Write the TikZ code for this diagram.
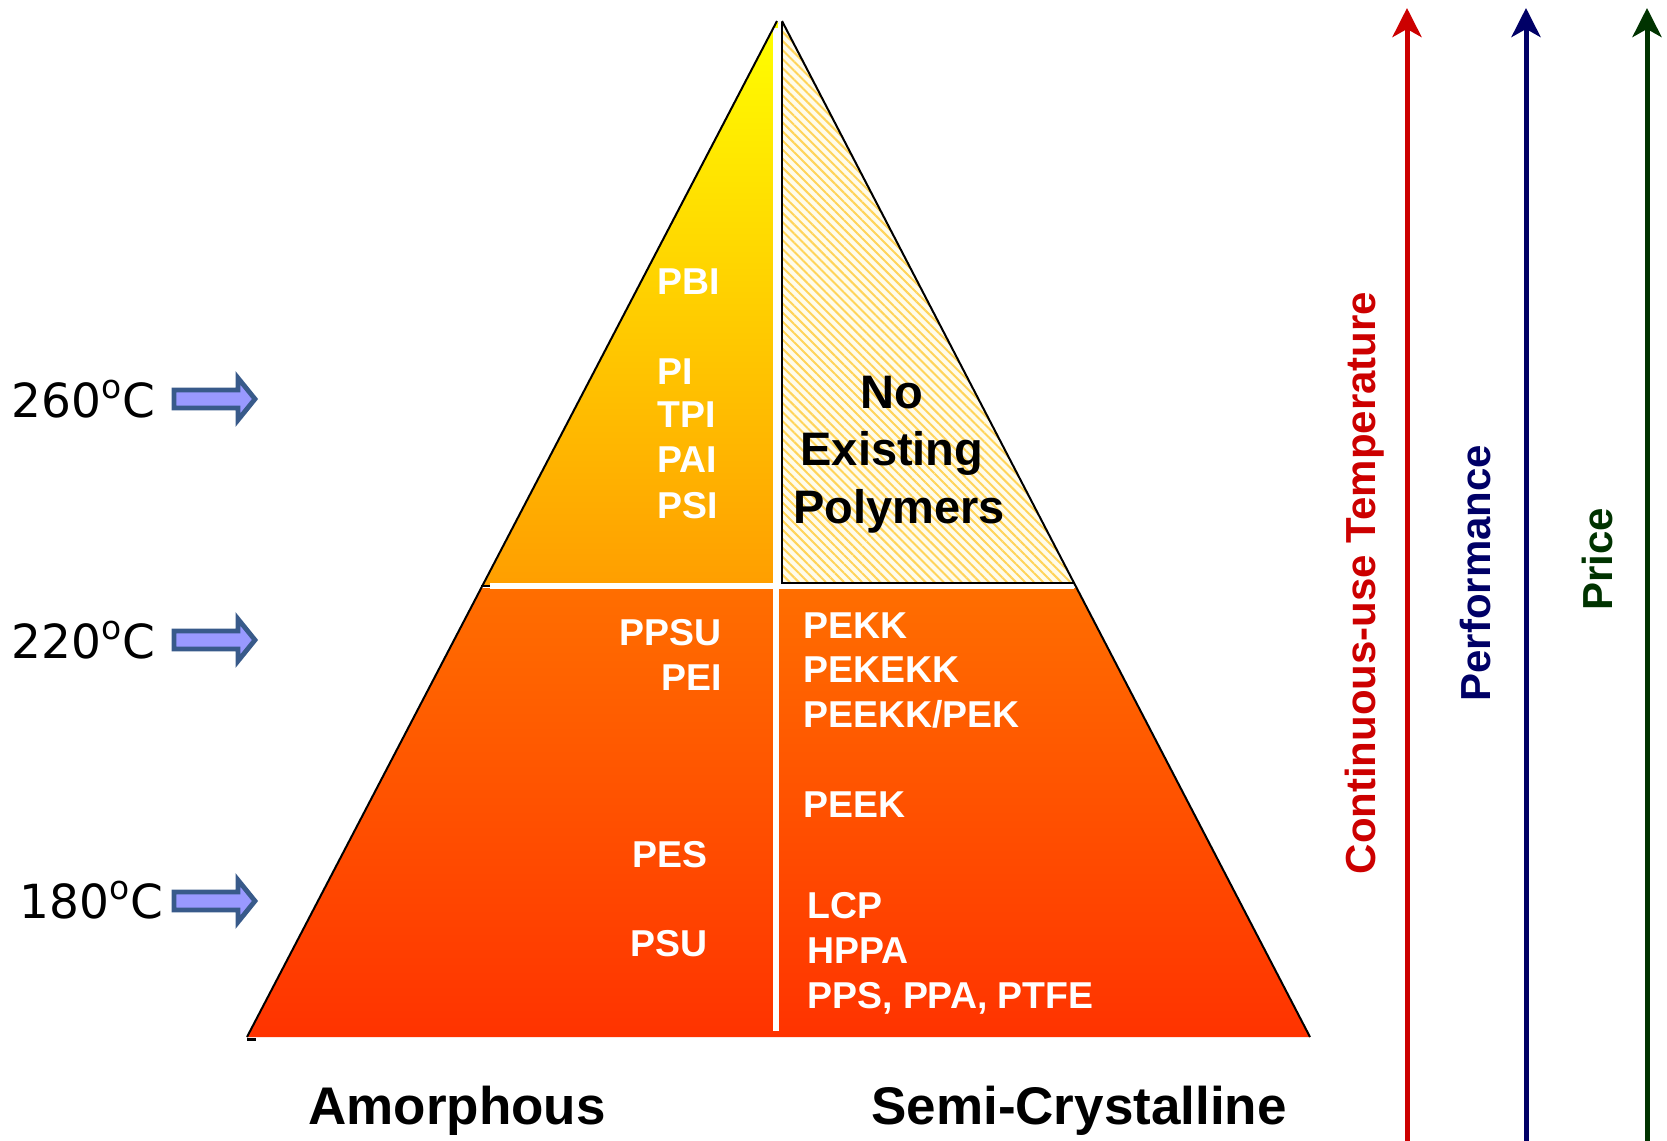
\documentclass[tikz,border=0pt]{standalone}
\usepackage{fontspec}
\setmainfont{Liberation Sans}
\newfontfamily\dejavu{DejaVu Sans}
\usetikzlibrary{patterns.meta,arrows.meta}

\definecolor{arrowfill}{RGB}{153,153,255}
\definecolor{arrowedge}{RGB}{56,90,138}
\definecolor{topA}{RGB}{255,255,0}
\definecolor{topB}{RGB}{255,158,0}
\definecolor{lowA}{RGB}{255,110,0}
\definecolor{lowB}{RGB}{255,51,0}
\definecolor{hatch}{RGB}{255,212,90}
\definecolor{hatchbg}{RGB}{255,252,235}
\definecolor{axred}{RGB}{204,0,0}
\definecolor{axnavy}{RGB}{0,0,102}
\definecolor{axgreen}{RGB}{0,51,0}

\begin{document}
\begin{tikzpicture}[x=0.5pt,y=-0.5pt,
  poly/.style={font=\fontsize{18.7}{18.7}\selectfont\bfseries, text=white, inner sep=0pt},
  temp/.style={font=\dejavu\fontsize{23.5}{23.5}\selectfont, inner sep=0pt, anchor=base west},
  big/.style={font=\fontsize{23.5}{23.5}\selectfont\bfseries, inner sep=0pt, anchor=base},
  cat/.style={font=\fontsize{26.5}{26.5}\selectfont\bfseries, inner sep=0pt, anchor=base},
  axlab/.style={font=\fontsize{21}{21}\selectfont\bfseries, inner sep=0pt, rotate=90, anchor=base},
  axis/.style={line width=2.5pt, -{Stealth[length=14.5pt,width=14.5pt,inset=4pt]}},
  blockarrow/.style={fill=arrowfill, draw=arrowedge, line width=2.4pt, line join=miter},
  edge/.style={draw=black, line width=1pt},
  divider/.style={draw=white, line width=3pt},
]
\useasboundingbox (0,0) rectangle (1667,1141);

% pyramid fills
\shade[top color=topA, bottom color=topB] (777,21) -- (483,586) -- (1074,586) -- cycle;
\shade[top color=lowA, bottom color=lowB] (481,588) -- (1076,588) -- (1310,1037) -- (247,1037) -- cycle;

% white dividers
\draw[divider] (490,586) -- (1074,586);
\draw[divider] (776,28) -- (776,1031);
\draw[draw=white, line width=2pt] (779.5,24) -- (779.5,584);

% hatched region
\fill[hatchbg] (782,22) -- (782,583) -- (1074,583) -- cycle;
\fill[pattern={Lines[angle=-45,distance=3.2pt,line width=1pt]}, pattern color=hatch] (782,22) -- (782,583) -- (1074,583) -- cycle;
\draw[edge, line join=miter] (782,22) -- (782,583) -- (1074,583);

% outline
\draw[edge] (777,21) -- (247,1037);
\draw[edge] (782,21) -- (1310,1037);
\draw[edge, line width=1.5pt] (247,1039) -- (256,1039);
\draw[edge] (481,586) -- (490,586);

% polymer labels, amorphous
\node[poly, anchor=base west] (pbi) at (657,294) {PBI};
\node[poly, anchor=base west] (pi) at (657,384) {PI};
\node[poly, anchor=base west] (tpi) at (657,427) {TPI};
\node[poly, anchor=base west] (pai) at (657,472) {PAI};
\node[poly, anchor=base west] (psi) at (657,518) {PSI};
\node[poly, anchor=base east] (ppsu) at (722,645) {PPSU};
\node[poly, anchor=base east] (pei) at (722,690) {PEI};
\node[poly, anchor=base east] (pes) at (708,867) {PES};
\node[poly, anchor=base east] (psu) at (708,956) {PSU};

% polymer labels, semi-crystalline
\node[poly, anchor=base west] (pekk) at (803,638) {PEKK};
\node[poly, anchor=base west] (pekekk) at (803,682) {PEKEKK};
\node[poly, anchor=base west] (peekk) at (803,727) {PEEKK/PEK};
\node[poly, anchor=base west] (peek) at (803,817) {PEEK};
\node[poly, anchor=base west] (lcp) at (807,918) {LCP};
\node[poly, anchor=base west] (hppa) at (807,963) {HPPA};
\node[poly, anchor=base west] (pps) at (807,1008) {PPS, PPA, PTFE};

% no existing polymers
\node[big] (no) at (892,408) {No};
\node[big] (exist) at (892,465) {Existing};
\node[big] (polym) at (899,523) {Polymers};

% temperatures
\node[temp] (t260) at (11,417) {260\textsuperscript{o}C};
\node[temp] (t220) at (11,658) {220\textsuperscript{o}C};
\node[temp] (t180) at (19,918) {180\textsuperscript{o}C};
\foreach \cy in {399,640,901} {
  \draw[blockarrow] (174,\cy-9) -- (238,\cy-9) -- (238,\cy-21) -- (255,\cy) -- (238,\cy+21) -- (238,\cy+9) -- (174,\cy+9) -- cycle;
}

% categories
\node[cat] (amor) at (457,1124) {Amorphous};
\node[cat] (semi) at (1079,1124) {Semi-Crystalline};

% axes
\coordinate (ra) at (1407,1141); \coordinate (rb) at (1407,8);
\coordinate (na) at (1526,1141); \coordinate (nb) at (1526,8);
\coordinate (ga) at (1647,1141); \coordinate (gb) at (1647,8);
\draw[axis, axred] (ra) -- (rb);
\draw[axis, axnavy] (na) -- (nb);
\draw[axis, axgreen] (ga) -- (gb);
\node[axlab, text=axred] (ltemp) at (1375,583) {Continuous-use Temperature};
\node[axlab, text=axnavy] (lperf) at (1490,573) {Performance};
\node[axlab, text=axgreen] (lprice) at (1612,559) {Price};
\end{tikzpicture}
\end{document}
